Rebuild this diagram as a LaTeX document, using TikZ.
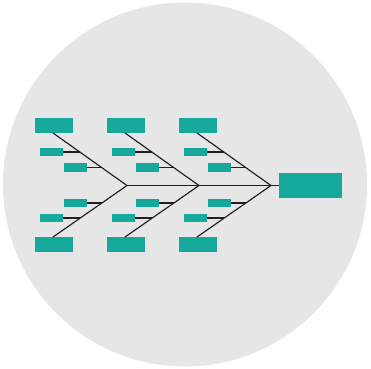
\documentclass[tikz,border=0pt]{standalone}
\begin{document}
\begin{tikzpicture}[x=1pt,y=-1pt,
  bone/.style={draw=black!88,line width=1.15pt},
  tealbox/.style={fill=teal0,draw=none,inner sep=0pt,rectangle},
  bigbox/.style={tealbox,minimum width=38pt,minimum height=15pt},
  smallbox/.style={tealbox,minimum width=23pt,minimum height=8.5pt}]
\definecolor{teal0}{HTML}{14A99B}
\definecolor{bgray}{HTML}{E6E6E6}
\useasboundingbox (0,0) rectangle (371,368);
\fill[bgray] (185,184.5) circle[radius=182];
\node[tealbox,minimum width=63pt,minimum height=25pt] (head) at (310.5,185.5) {};
\foreach \i/\o in {1/0,2/72,3/144}{
  \coordinate (j\i) at (127+\o,185.5);
  % upper
  \node[bigbox] (ub\i) at (54+\o,125.5) {};
  \node[smallbox] (us\i a) at (51.5+\o,152) {};
  \node[smallbox] (us\i b) at (75+\o,167.5) {};
  \coordinate (ud\i) at (53+\o,133);
  \coordinate (ua\i) at (80+\o,152);
  \coordinate (uc\i) at (102+\o,167.5);
  % lower
  \node[bigbox] (lb\i) at (54+\o,244.5) {};
  \node[smallbox] (ls\i a) at (51.5+\o,218) {};
  \node[smallbox] (ls\i b) at (75+\o,203) {};
  \coordinate (ld\i) at (53+\o,237);
  \coordinate (la\i) at (80+\o,218);
  \coordinate (lc\i) at (102+\o,203);
  \draw[bone] (ud\i) -- (j\i);
  \draw[bone] (ld\i) -- (j\i);
  \draw[bone] (us\i a.east) -- (ua\i);
  \draw[bone] (us\i b.east) -- (uc\i);
  \draw[bone] (ls\i a.east) -- (la\i);
  \draw[bone] (ls\i b.east) -- (lc\i);
}
\draw[bone] (j1) -- (head.west);
\end{tikzpicture}
\end{document}
